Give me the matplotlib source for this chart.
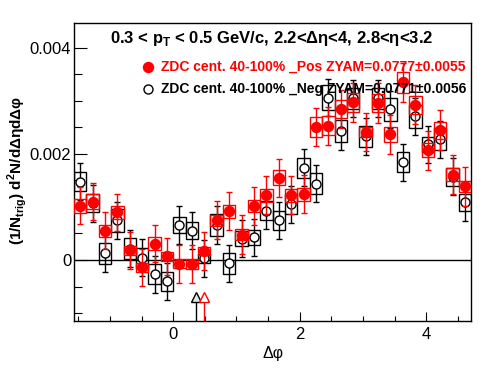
import numpy as np
import matplotlib
matplotlib.use('Agg')
import matplotlib.pyplot as plt
from matplotlib.patches import Rectangle
from matplotlib.ticker import MultipleLocator

plt.rcParams['font.family'] = ['Liberation Sans', 'DejaVu Sans']
plt.rcParams['mathtext.fontset'] = 'custom'
plt.rcParams['mathtext.rm'] = 'Liberation Sans'
plt.rcParams['mathtext.bf'] = 'Liberation Sans:bold'

# 32 bins in dphi from -pi/2 to 3pi/2
n_bins = 32
edges = np.linspace(-np.pi / 2, 3 * np.pi / 2, n_bins + 1)
centers = 0.5 * (edges[1:] + edges[:-1])
bw = edges[1] - edges[0]

# ZDC cent. 40-100% _Pos (red, filled)
pos_val = [0.00102, 0.00110, 0.00055, 0.00090, 0.00018, -0.00014, 0.00031, 0.00007,
           -0.00007, -0.00008, 0.00017, 0.00075, 0.00092, 0.00048, 0.00102, 0.00122,
           0.00155, 0.00122, 0.00124, 0.00251, 0.00253, 0.00284, 0.00297, 0.00241,
           0.00296, 0.00237, 0.00335, 0.00293, 0.00207, 0.00245, 0.00161, 0.00139]
pos_err = [0.00035] * 8 + [0.00036] * 8 + [0.00036] * 8 + [0.00037] * 8
pos_sys = [0.000125, 0.00014, 0.00011, 0.00012, 0.00008, 0.00008, 0.00013, 0.00009,
           0.00009, 0.00009, 0.00008, 0.00010, 0.00012, 0.00010, 0.00012, 0.00012,
           0.00014, 0.00012, 0.00012, 0.00019, 0.00018, 0.00017, 0.00017, 0.00010,
           0.00017, 0.00014, 0.00020, 0.00017, 0.00013, 0.00016, 0.00012, 0.00010]

# ZDC cent. 40-100% _Neg (black, open)
neg_val = [0.00148, 0.00107, 0.00013, 0.00075, 0.00021, 0.00004, -0.00027, -0.00040,
           0.00066, 0.00055, 0.00003, 0.00066, -0.00006, 0.00040, 0.00043, 0.00093,
           0.00075, 0.00105, 0.00174, 0.00144, 0.00306, 0.00243, 0.00305, 0.00233,
           0.00305, 0.00284, 0.00184, 0.00271, 0.00218, 0.00228, 0.00157, 0.00109]
neg_err = [0.00035] * 32
neg_sys = [0.00018, 0.00017, 0.00020, 0.00022, 0.00020, 0.00019, 0.00019, 0.00018,
           0.00016, 0.00016, 0.00008, 0.00020, 0.00020, 0.00014, 0.00014, 0.00018,
           0.00018, 0.00019, 0.00019, 0.00020, 0.00024, 0.00021, 0.00020, 0.00020,
           0.00020, 0.00021, 0.00019, 0.00022, 0.00014, 0.00020, 0.00017, 0.00016]

# ZYAM minimum positions
zyam_x_neg = 0.36
zyam_x_pos = 0.485

ymin, ymax = -0.00115, 0.00447

fig = plt.figure(figsize=(4.96, 3.74), dpi=100)
ax = fig.add_axes([0.149, 0.1417, 0.801, 0.797])
ax.set_xlim(edges[0], edges[-1])
ax.set_ylim(ymin, ymax)

ax.axhline(0, color='black', lw=1.0, zorder=1)


def draw_set(vals, errs, syss, color, mfc, zo):
    for c, v, s in zip(centers, vals, syss):
        ax.add_patch(Rectangle((c - bw / 2, v - s), bw, 2 * s, fill=False,
                               edgecolor=color, lw=1.0, zorder=zo))
    ax.errorbar(centers, vals, yerr=errs, fmt='o', color=color, mfc=mfc,
                mec=color, ms=6.5 if mfc != color else 7.2, mew=1.0,
                elinewidth=1.0, capsize=2.0, capthick=1.0, zorder=zo + 1)


draw_set(neg_val, neg_err, neg_sys, 'black', 'white', 3)
draw_set(pos_val, pos_err, pos_sys, 'red', 'red', 5)

# ZYAM arrows
for xz, col, fc in [(zyam_x_neg, 'black', '#e6e6e6'), (zyam_x_pos, 'red', 'white')]:
    ax.plot([xz, xz], [ymin, -0.00080], color=col, lw=1.0, zorder=7)
    ax.plot([xz], [-0.00070], marker='^', ms=7.5, mfc=fc, mec=col, mew=1.0, zorder=8)

ax.xaxis.set_major_locator(MultipleLocator(2))
ax.xaxis.set_minor_locator(MultipleLocator(0.5))
ax.yaxis.set_major_locator(MultipleLocator(0.002))
ax.yaxis.set_minor_locator(MultipleLocator(0.0005))
ax.tick_params(axis='y', which='major', direction='in', length=9, width=0.8,
               labelsize=12, pad=2)
ax.tick_params(axis='y', which='minor', direction='in', length=5.5, width=0.8)
ax.tick_params(axis='x', which='major', direction='in', length=6.3, width=0.8,
               labelsize=12, pad=4)
ax.tick_params(axis='x', which='minor', direction='in', length=3.6, width=0.8)
ax.set_yticks([0, 0.002, 0.004])
ax.set_yticklabels(['0', '0.002', '0.004'])
for sp in ax.spines.values():
    sp.set_linewidth(1.0)

ax.set_xlabel('Δφ', fontsize=11.5, labelpad=3)
fig.text(0.034, 0.545, r'(1/N$_{\mathbf{trig}}$) d$^{\mathbf{2}}$N/dΔηdΔφ',
         rotation=90, ha='center', va='center', fontsize=11, fontweight='bold')

fig.text(0.547, 0.898, r'0.3 < p$_{\mathbf{T}}$ < 0.5 GeV/c, 2.2<Δη<4, 2.8<η<3.2',
         ha='center', va='center', fontsize=12, fontweight='bold')

ax.plot([0.298], [0.821], marker='o', ms=7.2, color='red', transform=fig.transFigure,
        clip_on=False, zorder=2)
fig.text(0.325, 0.821, 'ZDC cent. 40-100% _Pos ZYAM=0.0777±0.0055', color='red',
         ha='left', va='center', fontsize=10, fontweight='bold', zorder=1)
ax.plot([0.298], [0.762], marker='o', ms=6.5, mfc='white', mec='black', mew=1.0,
        transform=fig.transFigure, clip_on=False, zorder=2)
fig.text(0.325, 0.762, 'ZDC cent. 40-100% _Neg ZYAM=0.0771±0.0056', color='black',
         ha='left', va='center', fontsize=10, fontweight='bold', zorder=1)

fig.savefig('out.png', dpi=100)
